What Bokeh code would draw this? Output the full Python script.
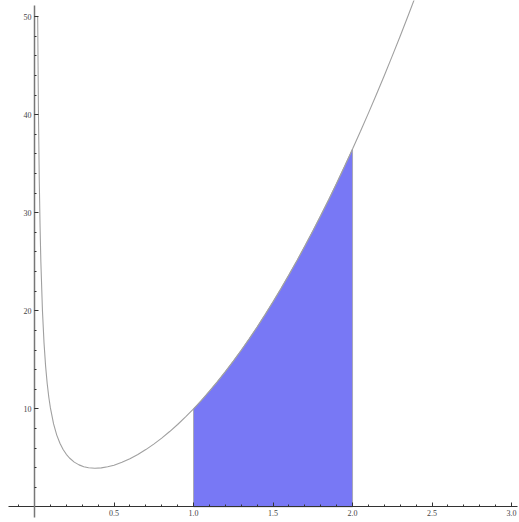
from bokeh.plotting import figure
from bokeh.models import FixedTicker, PrintfTickFormatter, Range1d
from bokeh.embed import file_html
from bokeh.resources import INLINE

# curve samples
curve_x = [0.02, 0.025, 0.03, 0.035, 0.04, 0.05, 0.06, 0.07, 0.08, 0.09, 0.10,
           0.12, 0.14, 0.16, 0.18, 0.20, 0.22, 0.25, 0.28, 0.31, 0.34, 0.38,
           0.42, 0.46, 0.50, 0.55, 0.60, 0.65, 0.70, 0.75, 0.80, 0.85, 0.90,
           0.95, 1.00, 1.05, 1.10, 1.15, 1.20, 1.25, 1.30, 1.35, 1.40, 1.45,
           1.50, 1.55, 1.60, 1.65, 1.70, 1.75, 1.80, 1.85, 1.90, 1.95, 2.00,
           2.05, 2.10, 2.15, 2.20, 2.25, 2.30, 2.35, 2.40]
curve_y = [50.0, 40.01, 33.34, 28.58, 25.01, 20.02, 16.70, 14.33, 12.56, 11.18, 10.09,
           8.46, 7.32, 6.48, 5.85, 5.36, 4.98, 4.56, 4.28, 4.09, 3.98, 3.93,
           3.97, 4.08, 4.25, 4.54, 4.91, 5.34, 5.84, 6.40, 7.01, 7.68, 8.40,
           9.18, 10.00, 10.87, 11.80, 12.77, 13.79, 14.86, 15.98, 17.14, 18.35, 19.61,
           20.92, 22.27, 23.67, 25.11, 26.60, 28.13, 29.72, 31.34, 33.02, 34.74, 36.50,
           38.31, 40.17, 42.07, 44.01, 46.01, 48.04, 50.13, 52.26]

fill_from = 1.0
fill_to = 2.0

x_ticks = [0.5, 1.0, 1.5, 2.0, 2.5, 3.0]
x_minor = [-0.1] + [round(0.1 * i, 1) for i in range(1, 31)]
y_ticks = [10, 20, 30, 40, 50]
y_minor = list(range(2, 51, 2))

p = figure(width=519, height=522, output_backend="svg", toolbar_location=None,
           x_range=Range1d(-0.2138, 3.05), y_range=Range1d(-1.6, 51.66),
           min_border=0)
p.outline_line_color = None
p.xgrid.visible = False
p.ygrid.visible = False
p.background_fill_color = "white"

# filled region
fx = [x for x in curve_x if fill_from <= x <= fill_to]
fy = [y for x, y in zip(curve_x, curve_y) if fill_from <= x <= fill_to]
px = fx + [fill_to, fill_from]
py = fy + [0, 0]
p.patch(px, py, fill_color="#7878f5", fill_alpha=1.0, line_color="#a8a8b8", line_width=1)

p.line(curve_x, curve_y, line_color="#a0a0a0", line_width=1.1)

for ax in (p.xaxis[0], p.yaxis[0]):
    ax.major_label_text_font = "Liberation Serif"
    ax.major_label_text_font_size = "8px"
    ax.major_label_text_color = "#444444"
    ax.major_tick_in = 4
    ax.major_tick_out = 0
    ax.minor_tick_in = 2
    ax.minor_tick_out = 0
    ax.major_tick_line_color = "#333333"
    ax.minor_tick_line_color = "#333333"
    ax.major_label_standoff = 3

p.xaxis.fixed_location = 0
p.yaxis.fixed_location = 0
p.xaxis.ticker = FixedTicker(ticks=x_ticks, minor_ticks=x_minor)
p.yaxis.ticker = FixedTicker(ticks=y_ticks, minor_ticks=y_minor)
p.xaxis.formatter = PrintfTickFormatter(format="%.1f")
p.yaxis.formatter = PrintfTickFormatter(format="%d")
p.xaxis.axis_line_color = "#333333"
p.xaxis.bounds = (-0.165, 3.04)
p.yaxis.axis_line_color = "#777777"
p.yaxis.axis_line_width = 1.5
p.yaxis.bounds = (-1.1, 51.2)

open("out.html", "w").write(file_html(p, INLINE))
